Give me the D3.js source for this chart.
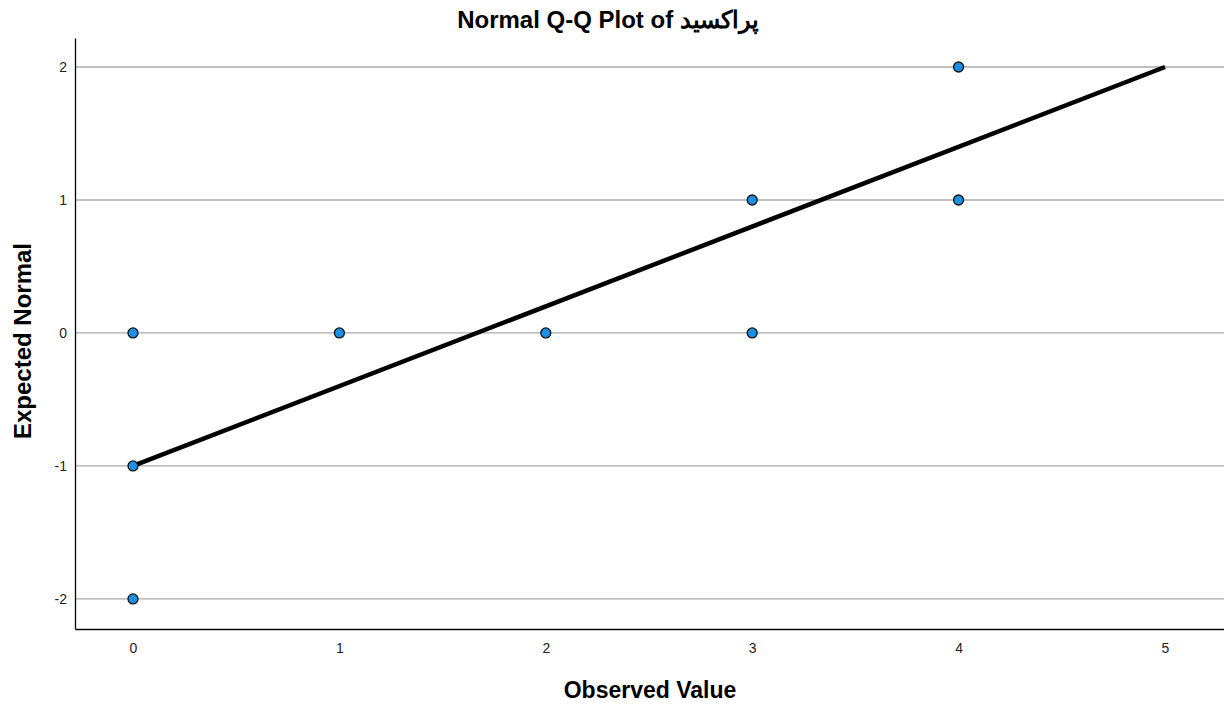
<!DOCTYPE html>
<html><head><meta charset="utf-8">
<script src="https://cdn.jsdelivr.net/npm/d3@7/dist/d3.min.js"></script>
<style>body{margin:0;background:#fff}svg{display:block;font-family:Arial,"Liberation Sans",sans-serif}</style>
</head><body><svg id="c" width="1224" height="707"></svg>
<script>
const observed = [0, 0, 0, 1, 2, 3, 3, 4, 4];
const expected = [0, -1, -2, 0, 0, 1, 0, 2, 1];
const lineX = [0, 5];
const lineY = [-1, 2];
const xTicks = [0, 1, 2, 3, 4, 5];
const yTicks = [-2, -1, 0, 1, 2];
const title = "Normal Q-Q Plot of پراکسید";
const xTitle = "Observed Value";
const yTitle = "Expected Normal";

const svg = d3.select("#c");
const L = 75, R = 1224, T = 38, B = 629;
const x = d3.scaleLinear().domain([-0.281, 5.286]).range([L, R]);
const y = d3.scaleLinear().domain([-2.226, 2.218]).range([B, T]);

svg.append("g").selectAll("line").data(yTicks).join("line")
  .attr("x1", L).attr("x2", R).attr("y1", d => y(d)).attr("y2", d => y(d))
  .attr("stroke", "#aaaaaa").attr("stroke-width", 1.3);

const xa = svg.append("g").attr("transform", `translate(0,${B})`)
  .call(d3.axisBottom(x).tickValues(xTicks).tickSize(0).tickPadding(14).tickFormat(d3.format("d")));
xa.attr("font-size", 14).attr("font-family", "Arial, 'Liberation Sans', sans-serif");
xa.select(".domain").attr("stroke", "#000").attr("stroke-width", 1.3);
xa.selectAll("text").style("font-size", "14px").attr("fill", "#222");

const ya = svg.append("g").attr("transform", `translate(${L},0)`)
  .call(d3.axisLeft(y).tickValues(yTicks).tickSize(0).tickPadding(8).tickFormat(d => d < 0 ? "-" + Math.abs(d) : String(d)));
ya.attr("font-size", 14).attr("font-family", "Arial, 'Liberation Sans', sans-serif");
ya.select(".domain").attr("stroke", "#000").attr("stroke-width", 1.3);
ya.selectAll("text").style("font-size", "14px").attr("fill", "#222");

svg.append("line")
  .attr("x1", x(lineX[0])).attr("y1", y(lineY[0]))
  .attr("x2", x(lineX[1])).attr("y2", y(lineY[1]))
  .attr("stroke", "#000").attr("stroke-width", 4.5);

svg.append("g").selectAll("circle").data(observed.map((o, i) => [o, expected[i]])).join("circle")
  .attr("cx", d => x(d[0])).attr("cy", d => y(d[1])).attr("r", 5)
  .attr("fill", "#1a8fe3").attr("stroke", "#111").attr("stroke-width", 1.3);

svg.append("text").attr("x", 608).attr("y", 28).attr("text-anchor", "middle")
  .style("font-size", "24px").attr("font-weight", "bold").text(title);
svg.append("text").attr("x", 650).attr("y", 698).attr("text-anchor", "middle")
  .style("font-size", "23px").attr("font-weight", "bold").text(xTitle);
svg.append("text").attr("transform", "translate(31,341) rotate(-90)").attr("text-anchor", "middle")
  .style("font-size", "24px").attr("font-weight", "bold").text(yTitle);
</script></body></html>
